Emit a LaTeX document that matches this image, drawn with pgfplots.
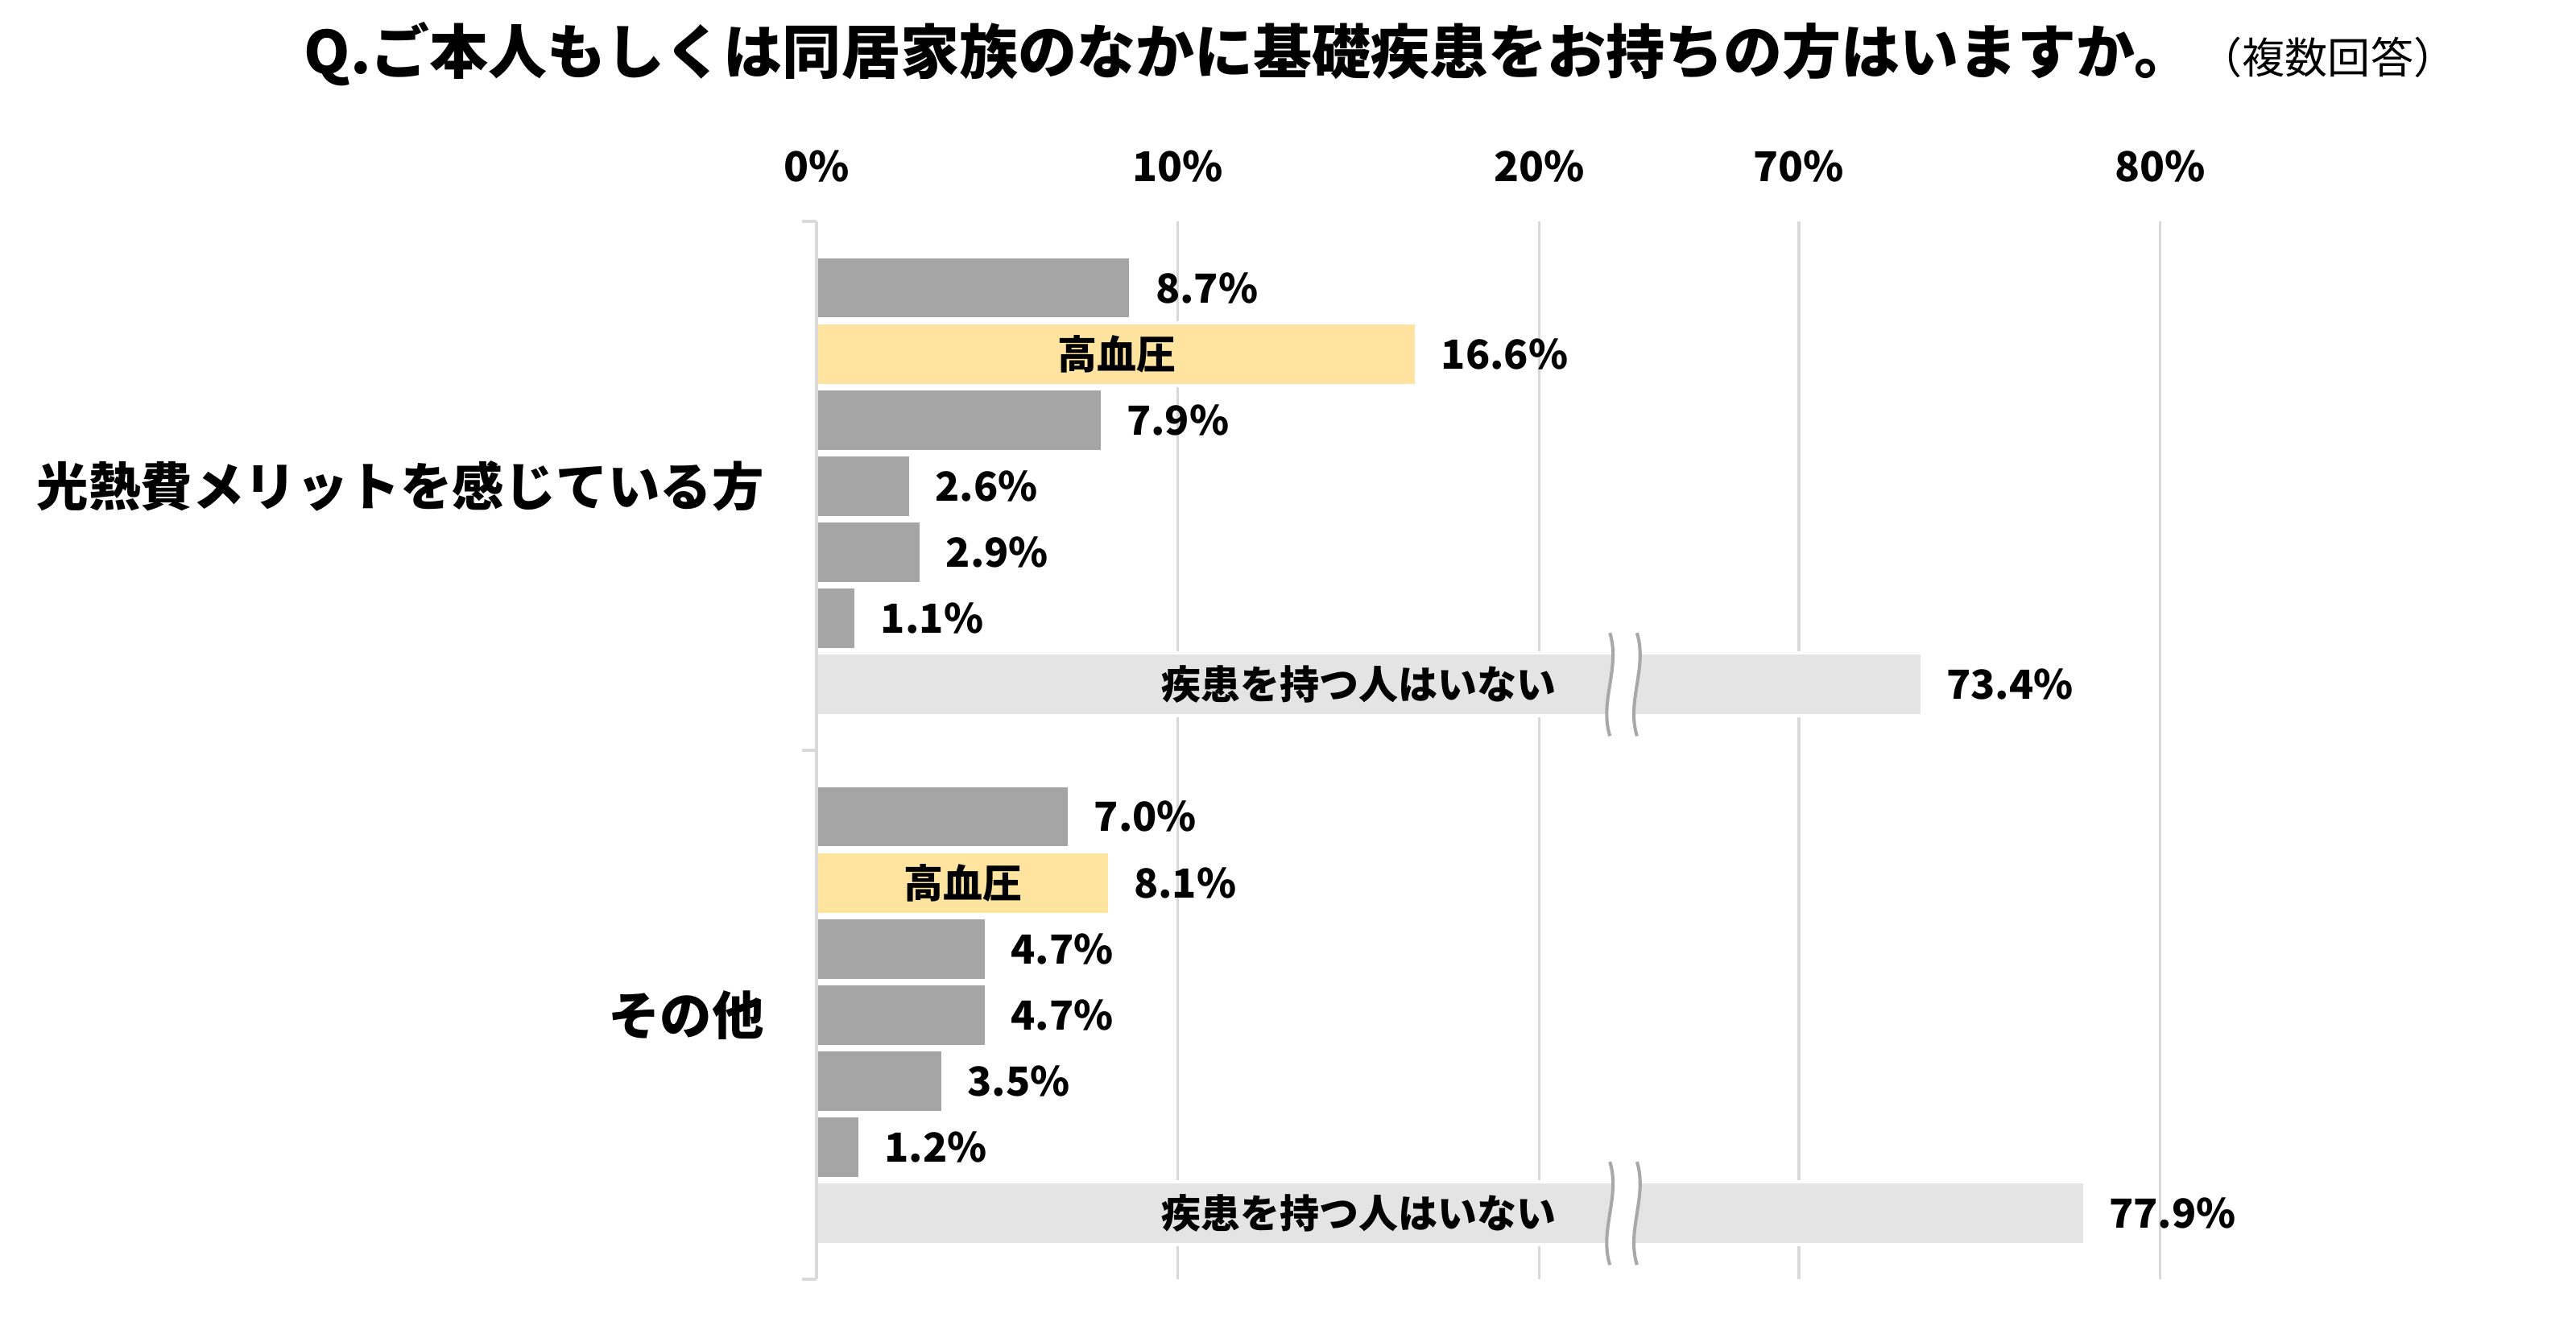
\documentclass[border=0pt]{standalone}
\usepackage{pgfplots}
\pgfplotsset{compat=1.18}
\usepackage{pgfplotstable}
\usepackage{fontspec}
\setmainfont{Noto Sans CJK JP}
\definecolor{barg}{HTML}{A5A5A5}
\definecolor{bary}{HTML}{FFE49F}
\definecolor{barl}{HTML}{E4E4E4}
\definecolor{gridc}{HTML}{D9D9D9}
\definecolor{brk}{HTML}{A8A8A8}

\pgfplotstableread{
pos val
1 8.7
3 7.9
4 2.6
5 2.9
6 1.1
9 7.0
11 4.7
12 4.7
13 3.5
14 1.2
}\grayt
\pgfplotstableread{
pos val
2 16.6
10 8.1
}\yellowt
\pgfplotstableread{
pos val
7 73.4
15 77.9
}\nonet

\begin{document}
\begin{tikzpicture}
\useasboundingbox (0,0) rectangle (784pt,408.5pt);
\node[font=\fontsize{17.9}{20}\selectfont\bfseries] at (380pt,392pt) {Q.ご本人もしくは同居家族のなかに基礎疾患をお持ちの方はいますか。};
\node[font=\fontsize{13}{15}\selectfont] at (708.5pt,391pt) {（複数回答）};
\begin{axis}[
 at={(248.5pt,19pt)}, anchor=south west,
 scale only axis, width=409pt, height=322pt,
 xmin=0, xmax=37.18, ymin=0, ymax=16, y dir=reverse,
 axis line style={draw=none},
 xtick={0,10,20,27.18,37.18},
 xticklabels={0\%,10\%,20\%,70\%,80\%},
 xticklabel pos=upper,
 xmajorgrids, grid style={gridc, line width=0.8pt},
 major x tick style={draw=none},
 ytick=\empty,
 xticklabel style={font=\fontsize{12.5}{14}\selectfont\bfseries, yshift=8.5pt},
 xbar, bar width=0.95, bar shift=0pt,
 point meta=explicit,
 nodes near coords={\pgfmathprintnumber[fixed,fixed zerofill,precision=1,assume math mode=true]{\pgfplotspointmeta}\%},
 every node near coord/.append style={anchor=west, inner sep=0pt, xshift=7pt, font=\fontsize{12.2}{15}\selectfont\bfseries, text=black},
 clip=false,
]
\addplot[fill=barg, draw=white, line width=1pt] table[x=val, y=pos, meta=val] {\grayt};
\addplot[fill=bary, draw=white, line width=1pt] table[x=val, y=pos, meta=val] {\yellowt};
\addplot[fill=barl, draw=white, line width=1pt] table[x expr=\thisrow{val}-42.82, y=pos, meta=val] {\nonet};

% break marks
\fill[white] (axis cs:21.95,6.22) .. controls (axis cs:22.25,6.75) and (axis cs:21.65,7.25) .. (axis cs:21.95,7.78) -- (axis cs:22.7,7.78) .. controls (axis cs:22.4,7.25) and (axis cs:23.0,6.75) .. (axis cs:22.7,6.22) -- cycle;
\draw[brk, line width=1pt] (axis cs:21.95,6.22) .. controls (axis cs:22.25,6.75) and (axis cs:21.65,7.25) .. (axis cs:21.95,7.78);
\draw[brk, line width=1pt] (axis cs:22.7,6.22) .. controls (axis cs:23.0,6.75) and (axis cs:22.4,7.25) .. (axis cs:22.7,7.78);
\fill[white] (axis cs:21.95,14.22) .. controls (axis cs:22.25,14.75) and (axis cs:21.65,15.25) .. (axis cs:21.95,15.78) -- (axis cs:22.7,15.78) .. controls (axis cs:22.4,15.25) and (axis cs:23.0,14.75) .. (axis cs:22.7,14.22) -- cycle;
\draw[brk, line width=1pt] (axis cs:21.95,14.22) .. controls (axis cs:22.25,14.75) and (axis cs:21.65,15.25) .. (axis cs:21.95,15.78);
\draw[brk, line width=1pt] (axis cs:22.7,14.22) .. controls (axis cs:23.0,14.75) and (axis cs:22.4,15.25) .. (axis cs:22.7,15.78);

% in-bar labels
\node[font=\fontsize{12}{14}\selectfont\bfseries] at (axis cs:8.3,2) {高血圧};
\node[font=\fontsize{12}{14}\selectfont\bfseries] at (axis cs:4.05,10) {高血圧};
\node[font=\fontsize{12}{14}\selectfont\bfseries] at (axis cs:15,7) {疾患を持つ人はいない};
\node[font=\fontsize{12}{14}\selectfont\bfseries] at (axis cs:15,15) {疾患を持つ人はいない};

% left axis line
\draw[gridc, line width=1pt] (axis cs:0,0) -- (axis cs:0,16);
\draw[gridc, line width=1pt] (axis cs:0,0) -- ++(-4.5pt,0pt);
\draw[gridc, line width=1pt] (axis cs:0,8) -- ++(-4.5pt,0pt);
\draw[gridc, line width=1pt] (axis cs:0,16) -- ++(-4.5pt,0pt);

% category labels
\node[anchor=east, xshift=-12.5pt, font=\fontsize{15.8}{18}\selectfont\bfseries] at (axis cs:0,4) {光熱費メリットを感じている方};
\node[anchor=east, xshift=-12.5pt, font=\fontsize{15.8}{18}\selectfont\bfseries] at (axis cs:0,12) {その他};
\end{axis}
\end{tikzpicture}
\end{document}
